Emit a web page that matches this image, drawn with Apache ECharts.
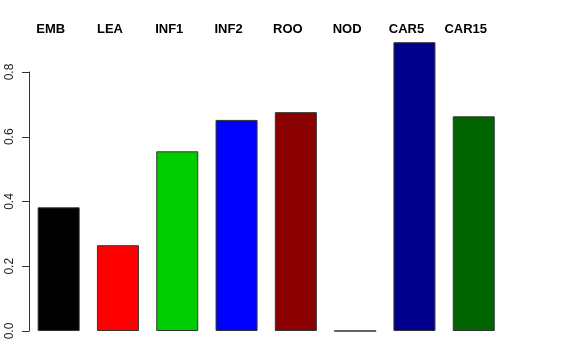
<!DOCTYPE html>
<html>
<head>
<meta charset="utf-8">
<script src="https://cdn.jsdelivr.net/npm/echarts@6/dist/echarts.min.js"></script>
<style>html,body{margin:0;padding:0;background:#fff;}#c{width:576px;height:360px;}</style>
</head>
<body>
<div id="c"></div>
<script>
const categories = ['EMB', 'LEA', 'INF1', 'INF2', 'ROO', 'NOD', 'CAR5', 'CAR15'];
const values = [0.382, 0.265, 0.555, 0.652, 0.676, 0.0, 0.892, 0.663];
const yTicks = [0, 0.2, 0.4, 0.6, 0.8];
const barColors = ['#000000', '#FF0000', '#00CD00', '#0000FF', '#8B0000', '#8B008B', '#00008B', '#006400'];

const chart = echarts.init(document.getElementById('c'), null, {renderer: 'canvas'});
chart.setOption({
  animation: false,
  backgroundColor: '#ffffff',
  grid: {left: 29, right: 72.6, top: 72, bottom: 29, containLabel: false},
  xAxis: {
    type: 'category',
    data: categories,
    position: 'top',
    axisLine: {show: false},
    axisTick: {show: false},
    axisLabel: {
      margin: 36,
      fontFamily: 'Liberation Sans, Arial, sans-serif',
      fontWeight: 'bold',
      fontSize: 13,
      color: '#000',
      padding: [0, 16, 0, 0]
    }
  },
  yAxis: {
    type: 'value',
    min: yTicks[0],
    max: yTicks[yTicks.length - 1],
    interval: 0.2,
    splitLine: {show: false},
    axisLine: {show: true, lineStyle: {color: '#333', width: 1}},
    axisTick: {show: true, length: 7, lineStyle: {color: '#333'}},
    axisLabel: {
      rotate: 90,
      margin: 13,
      fontFamily: 'Liberation Sans, Arial, sans-serif',
      fontSize: 12,
      color: '#222',
      formatter: v => v.toFixed(1)
    }
  },
  series: [{
    type: 'bar',
    clip: false,
    barWidth: 42,
    data: values.map((v, i) => ({value: v, itemStyle: {color: barColors[i]}})),
    itemStyle: {borderColor: '#333', borderWidth: 1}
  }]
});
</script>
</body>
</html>
